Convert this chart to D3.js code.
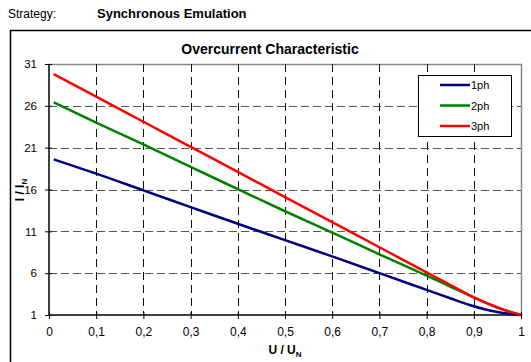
<!DOCTYPE html>
<html><head><meta charset="utf-8">
<script src="https://cdn.jsdelivr.net/npm/d3@7"></script>
<style>body{margin:0;background:#fff}svg{display:block;font-family:"Liberation Sans",Arial,sans-serif}</style>
</head><body><svg id="c" width="531" height="362"></svg>
<script>
const xValues = [0.01, 0.1, 0.2, 0.3, 0.4, 0.5, 0.6, 0.7, 0.8, 0.85, 0.9, 0.95, 1.0];
const ph1 = [19.6, 17.9, 15.9, 13.9, 11.9, 9.95, 8.0, 6.0, 4.0, 3.0, 2.05, 1.35, 1.0];
const ph2 = [26.4, 24.0, 21.4, 18.7, 16.05, 13.4, 10.85, 8.25, 5.7, 4.4, 3.1, 1.9, 1.0];
const ph3 = [29.8, 27.1, 24.1, 21.1, 18.1, 15.1, 12.1, 9.1, 6.1, 4.6, 3.1, 1.9, 1.0];
const seriesNames = ["1ph", "2ph", "3ph"];
const seriesColors = ["#000080", "#008000", "#ff0000"];
const xTicks = [0, 0.1, 0.2, 0.3, 0.4, 0.5, 0.6, 0.7, 0.8, 0.9, 1];
const yTicks = [1, 6, 11, 16, 21, 26, 31];

const svg = d3.select("#c");
const L = 49, R = 521, T = 64, B = 315;
const x = d3.scaleLinear().domain([0, 1]).range([L, R]);
const y = d3.scaleLinear().domain([1, 31]).range([B, T]);

// header
svg.append("text").attr("x", 8).attr("y", 18).attr("font-size", 12).text("Strategy:");
svg.append("text").attr("x", 97).attr("y", 18).attr("font-size", 13).attr("font-weight", "bold").text("Synchronous Emulation");

// outer frame
svg.append("rect").attr("x", 10.5).attr("y", 30.5).attr("width", 540).attr("height", 350)
  .attr("fill", "none").attr("stroke", "#000").attr("stroke-width", 1.5);

// title
svg.append("text").attr("x", 270).attr("y", 54).attr("text-anchor", "middle")
  .attr("font-size", 14).attr("font-weight", "bold").text("Overcurrent Characteristic");

// plot border (gray top/right)
svg.append("path").attr("d", `M${L},${T+0.5}H${R+0.5}V${B}`).attr("fill", "none").attr("stroke", "#888").attr("stroke-width", 1.5);

// gridlines
const g = svg.append("g");
yTicks.slice(1, -1).forEach(v => {
  g.append("line").attr("x1", L).attr("x2", R).attr("y1", Math.round(y(v)) + 0.5).attr("y2", Math.round(y(v)) + 0.5)
    .attr("stroke", "#555").attr("stroke-dasharray", "8,4");
});
xTicks.slice(1, -1).forEach(v => {
  g.append("line").attr("y1", T).attr("y2", B).attr("x1", Math.round(x(v)) + 0.5).attr("x2", Math.round(x(v)) + 0.5)
    .attr("stroke", "#111").attr("stroke-dasharray", "8,5");
});

// axes
const xAxis = d3.axisBottom(x).tickValues(xTicks).tickSize(4).tickPadding(8)
  .tickFormat(d => d === 0 || d === 1 ? String(d) : d3.format(".1f")(d).replace(".", ","));
const gx = svg.append("g").attr("transform", `translate(0,${B})`).call(xAxis);
gx.select(".domain").attr("stroke", "#000").attr("stroke-width", 1.5).attr("d", `M${L},0H${R}`);
gx.selectAll(".tick line").attr("y1", -3).attr("y2", 4);
gx.selectAll("text").attr("font-size", 12).attr("font-family", "Liberation Sans, Arial, sans-serif").attr("fill", "#000");

const yAxis = d3.axisLeft(y).tickValues(yTicks).tickSize(4).tickPadding(8);
const gy = svg.append("g").attr("transform", `translate(${L},0)`).call(yAxis);
gy.select(".domain").attr("stroke", "#000").attr("stroke-width", 1.5).attr("d", `M0,${B}V${T}`);
gy.selectAll(".tick line").attr("x1", 3).attr("x2", -4);
gy.selectAll("text").attr("font-size", 11.5).attr("font-family", "Liberation Sans, Arial, sans-serif").attr("fill", "#000");

// axis titles
const xt = svg.append("text").attr("x", 285).attr("y", 354).attr("text-anchor", "middle")
  .attr("font-size", 12).attr("font-weight", "bold");
xt.append("tspan").text("U / U");
xt.append("tspan").attr("font-size", 8).attr("dy", 3).text("N");

const yt = svg.append("text").attr("transform", "translate(24,190) rotate(-90)").attr("text-anchor", "middle")
  .attr("font-size", 12).attr("font-weight", "bold");
yt.append("tspan").text("I / I");
yt.append("tspan").attr("font-size", 8).attr("dy", 3).text("N");

// lines
const data = [ph1, ph2, ph3];
const line = d3.line().x((d, i) => x(xValues[i])).y(d => y(d)).curve(d3.curveMonotoneX);
data.forEach((s, k) => {
  svg.append("path").attr("d", line(s)).attr("fill", "none").attr("stroke", seriesColors[k]).attr("stroke-width", 2.5);
});

// legend
const lg = svg.append("g");
lg.append("rect").attr("x", 418.5).attr("y", 75.5).attr("width", 93).attr("height", 61)
  .attr("fill", "#fff").attr("stroke", "#000").attr("stroke-width", 1);
seriesNames.forEach((n, k) => {
  const yy = 85 + k * 20.5;
  lg.append("line").attr("x1", 440).attr("x2", 470).attr("y1", yy).attr("y2", yy)
    .attr("stroke", seriesColors[k]).attr("stroke-width", 2.5);
  lg.append("text").attr("x", 471).attr("y", yy + 4).attr("font-size", 11).text(n);
});
</script></body></html>
